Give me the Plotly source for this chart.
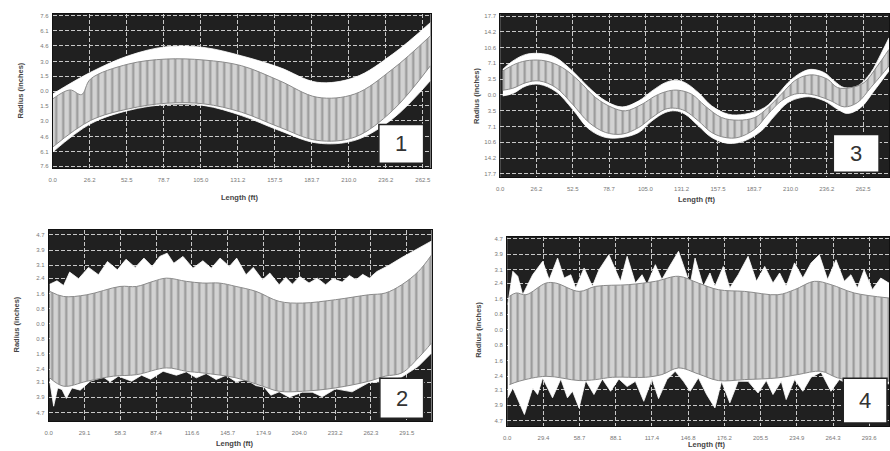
import plotly.graph_objects as go

W, H = 890, 451

# ---------------- Chart 1 ----------------
c1_U_x = [0, 26.8, 53.6, 80.4, 107.3, 133.8, 160.7, 187.5, 214.3, 241.1, 267.9]
c1_U_y = [-0.29, 1.90, 3.57, 4.48, 4.41, 3.57, 2.40, 0.89, 1.39, 3.74, 6.93]
c1_u_x = [0, 12.2, 20.5, 26.8, 53.6, 80.4, 107.3, 133.8, 160.7, 187.5, 214.3, 241.1, 267.9]
c1_u_y = [-0.79, 0.12, -0.35, 1.22, 2.73, 3.24, 3.14, 2.57, 1.06, -0.62, -0.29, 2.23, 5.59]
c1_l_x = [0, 26.8, 53.6, 80.4, 107.3, 133.8, 160.7, 187.5, 214.3, 241.1, 267.9]
c1_l_y = [-5.66, -2.97, -1.80, -1.23, -1.29, -2.13, -3.64, -4.98, -4.65, -1.96, 2.57]
c1_L_x = [0, 26.8, 53.6, 80.4, 107.3, 133.8, 160.7, 187.5, 214.3, 241.1, 267.9]
c1_L_y = [-6.16, -3.31, -1.96, -1.36, -1.46, -2.47, -3.98, -5.25, -4.98, -2.80, 1.06]
c1_xticks = [0.0, 26.2, 52.5, 78.7, 105.0, 131.2, 157.5, 183.7, 210.0, 236.2, 262.5]
c1_yticks = [7.6, 6.1, 4.6, 3.0, 1.5, 0.0, -1.5, -3.0, -4.6, -6.1, -7.6]

# ---------------- Chart 2 ----------------
c2_U_x = [0.8, 6.7, 12.1, 17.0, 24.3, 32.4, 40.5, 47.8, 55.9, 62.9, 70.4, 77.5, 84.2, 90.4,
          96.4, 101.8, 109.3, 117.4, 125.5, 132.3, 139.5, 147.1, 153.0, 160.6, 166.5, 174.1,
          180.0, 187.6, 193.0, 198.4, 204.3, 211.9, 218.6, 225.4, 231.3, 238.9, 244.8, 250.2,
          255.6, 261.0, 267.2, 276.7, 287.4, 300.9, 311.7]
c2_U_y = [2.09, 2.27, 2.02, 2.73, 2.38, 2.98, 2.59, 3.29, 2.85, 3.41, 2.98, 3.47, 3.03, 3.56,
          3.73, 3.20, 3.56, 2.94, 3.33, 2.94, 3.47, 3.03, 3.47, 2.59, 2.98, 2.32,
          2.68, 2.06, 2.45, 2.09, 2.50, 2.15, 2.41, 2.06, 2.38, 2.20, 2.55, 2.32,
          2.61, 2.41, 2.76, 3.08, 3.50, 3.99, 4.38]
c2_u_x = [0.8, 12.1, 31.0, 58.0, 71.5, 85.0, 95.8, 112.0, 125.5, 139.0, 152.5, 168.7, 187.6,
          206.5, 233.5, 260.5, 273.9, 287.4, 300.9, 311.7]
c2_u_y = [1.71, 1.44, 1.53, 1.97, 1.97, 2.24, 2.41, 2.24, 2.15, 2.15, 1.97, 1.71, 1.18,
          1.09, 1.27, 1.53, 1.62, 2.06, 2.76, 3.64]
c2_l_x = [0.8, 12.1, 31.0, 52.6, 71.5, 95.8, 112.0, 125.5, 152.5, 174.1, 187.6, 206.5, 233.5,
          260.5, 273.9, 287.4, 300.9, 311.7]
c2_l_y = [-2.87, -3.31, -3.05, -2.78, -2.70, -2.34, -2.52, -2.61, -2.87, -3.31, -3.58, -3.58,
          -3.40, -3.05, -2.78, -2.61, -1.81, -1.02]
c2_L_x = [0.8, 4.0, 7.3, 10.8, 14.3, 18.9, 25.6, 33.7, 44.5, 49.9, 56.7, 67.5, 75.6, 82.9,
          93.1, 103.9, 112.0, 120.1, 128.2, 136.3, 144.4, 152.5, 160.6, 168.7, 175.4, 180.8,
          187.6, 195.7, 206.5, 214.6, 222.7, 233.5, 247.0, 260.5, 273.9, 287.4, 300.9, 311.7]
c2_L_y = [-3.05, -4.37, -3.40, -3.49, -3.96, -3.40, -3.52, -3.05, -2.83, -3.08, -2.78, -3.05,
          -2.73, -2.94, -2.52, -2.73, -2.55, -2.87, -2.64, -2.96, -2.73, -3.08, -2.96, -3.28,
          -3.36, -3.79, -3.61, -3.89, -3.63, -3.63, -3.87, -3.45, -3.61, -3.12, -3.05, -2.83,
          -2.26, -1.55]
c2_xticks = [0.0, 29.1, 58.3, 87.4, 116.6, 145.7, 174.9, 204.0, 233.2, 262.3, 291.5]
c2_yticks = [4.7, 3.9, 3.1, 2.4, 1.6, 0.8, 0.0, -0.8, -1.6, -2.4, -3.1, -3.9, -4.7]

# ---------------- Chart 3 ----------------
c3_U_x = [1.9, 9.1, 18.7, 30.7, 40.3, 52.3, 64.2, 76.2, 88.2, 100.2, 109.8, 119.4, 126.6, 133.7,
          143.3, 152.9, 164.9, 176.9, 191.3, 200.9, 208.1, 217.6, 224.8, 234.4, 241.6, 248.8,
          258.4, 268.0, 275.2, 281.2]
c3_U_y = [5.75, 7.62, 9.11, 9.26, 8.36, 5.38, 1.64, -1.34, -2.69, -1.34, 0.90, 2.76, 3.29, 2.76,
          0.52, -2.46, -4.33, -4.33, -2.84, 0.15, 2.76, 5.00, 5.75, 5.00, 3.14, 1.64,
          2.02, 5.00, 9.11, 12.85]
c3_u_x = [1.9, 11.5, 21.1, 33.1, 45.1, 57.0, 69.0, 81.0, 90.6, 102.6, 112.2, 121.8, 129.0, 138.5,
          148.1, 160.1, 172.1, 184.1, 193.7, 203.3, 212.8, 220.0, 227.2, 236.8, 244.0, 253.6,
          263.2, 272.8, 281.2]
c3_u_y = [5.38, 7.02, 7.77, 7.62, 6.12, 3.14, -0.60, -2.84, -3.58, -2.09, -0.22, 0.90, 1.05, 0.15,
          -2.46, -5.08, -5.68, -5.08, -2.84, 0.15, 3.14, 4.26, 4.48, 3.51, 1.64, 1.64,
          2.76, 6.50, 10.23]
c3_l_x = [1.9, 9.1, 18.7, 28.3, 40.3, 52.3, 64.2, 76.2, 88.2, 100.2, 109.8, 119.4, 126.6, 133.7,
          143.3, 152.9, 162.5, 172.1, 184.1, 193.7, 203.3, 212.8, 220.0, 229.6, 239.2, 248.8,
          258.4, 268.0, 275.2, 281.2]
c3_l_y = [1.05, 1.49, 2.76, 3.14, 1.64, -2.09, -6.20, -8.44, -8.81, -7.32, -5.08, -3.21, -2.99, -3.58,
          -5.83, -8.44, -9.56, -9.56, -7.69, -4.33, -1.34, 0.15, 0.30, -0.22, -1.34, -2.69,
          -1.72, 1.64, 4.26, 6.50]
c3_L_x = [1.9, 9.1, 18.7, 28.3, 40.3, 52.3, 64.2, 76.2, 88.2, 100.2, 109.8, 119.4, 126.6, 133.7,
          143.3, 152.9, 164.9, 176.9, 188.9, 198.5, 208.1, 217.6, 224.8, 234.4, 244.0, 251.2,
          260.8, 270.4, 277.6, 281.2]
c3_L_y = [-0.22, 0.30, 2.02, 2.39, 0.75, -3.21, -7.69, -9.56, -9.56, -8.44, -5.83, -3.96, -3.58, -4.33,
          -6.95, -9.56, -10.90, -10.31, -8.07, -4.71, -1.72, -0.60, -0.45, -1.34, -3.21, -4.18,
          -2.84, 0.90, 3.88, 5.38]
c3_xticks = [0.0, 26.2, 52.5, 78.7, 105.0, 131.2, 157.5, 183.7, 210.0, 236.2, 262.5]
c3_yticks = [17.7, 14.2, 10.6, 7.1, 3.5, 0.0, -3.5, -7.1, -10.6, -14.2, -17.7]

# ---------------- Chart 4 ----------------
c4_U_x = [0.5, 4.6, 8.6, 12.6, 20.7, 28.8, 34.1, 40.9, 46.2, 51.6, 55.6, 62.4, 69.1, 74.5, 82.5,
          91.9, 97.3, 104.0, 109.4, 113.4, 120.2, 125.5, 130.9, 139.0, 148.4, 152.4, 159.1,
          164.5, 168.5, 175.3, 180.6, 187.4, 195.4, 202.2, 208.9, 215.6, 221.0, 226.3, 233.1,
          239.8, 246.5, 253.2, 259.9, 266.7, 273.4, 278.8, 284.1, 289.5, 296.2, 303.0, 309.7]
c4_U_y = [1.30, 3.02, 2.76, 1.81, 2.84, 3.53, 2.59, 3.70, 2.67, 2.84, 2.16, 3.19, 2.24, 3.10, 3.87,
          2.50, 3.79, 2.41, 2.84, 2.33, 3.36, 2.59, 3.19, 4.05, 2.33, 3.70, 2.24,
          2.93, 2.24, 3.27, 2.16, 2.84, 3.79, 2.50, 3.27, 2.41, 2.93, 2.24, 3.45,
          2.67, 3.45, 3.87, 2.59, 3.61, 2.50, 2.84, 2.16, 3.10, 2.07, 2.67, 2.41]
c4_u_x = [1.9, 7.3, 15.3, 31.5, 39.5, 58.3, 71.8, 98.7, 120.2, 139.0, 155.1, 171.2, 192.7, 219.6,
          233.1, 249.2, 262.6, 281.5, 309.7]
c4_u_y = [1.73, 1.90, 1.81, 2.41, 2.41, 1.98, 2.24, 2.33, 2.50, 2.76, 2.41, 2.07, 1.98, 1.81,
          2.07, 2.50, 2.33, 1.90, 1.64]
c4_l_x = [1.9, 9.9, 31.5, 58.3, 71.8, 85.2, 112.1, 125.5, 139.0, 155.1, 171.2, 192.7, 219.6,
          235.8, 254.6, 268.0, 286.8, 309.7]
c4_l_y = [-2.83, -2.65, -2.40, -2.62, -2.57, -2.45, -2.45, -2.31, -1.97, -2.28, -2.62, -2.57,
          -2.48, -2.31, -2.14, -2.48, -2.65, -2.65]
c4_L_x = [0.5, 4.6, 14.0, 20.7, 24.7, 28.8, 36.8, 43.5, 48.9, 53.0, 58.3, 63.7, 70.4, 77.2, 83.9,
          90.6, 97.3, 104.0, 110.8, 117.5, 122.8, 129.6, 136.3, 143.0, 148.4, 155.1, 161.8,
          168.5, 173.9, 180.6, 187.4, 195.4, 203.5, 210.2, 215.6, 222.3, 226.3, 233.1, 239.8,
          246.5, 254.6, 262.6, 269.4, 277.4, 286.8, 309.7]
c4_L_y = [-3.51, -3.00, -4.37, -3.00, -3.34, -2.49, -3.51, -2.54, -3.51, -3.17, -4.03, -2.62,
          -3.34, -2.54, -3.17, -2.54, -2.93, -2.66, -3.69, -2.54, -3.55, -2.57, -2.14, -2.66,
          -3.17, -2.48, -3.34, -4.03, -2.66, -3.77, -2.66, -2.66, -3.26, -2.62, -3.34, -2.66,
          -3.60, -2.57, -3.17, -2.45, -2.19, -3.17, -2.57, -2.83, -2.74, -2.79]
c4_xticks = [0.0, 29.4, 58.7, 88.1, 117.4, 146.8, 176.2, 205.5, 234.9, 264.3, 293.6]
c4_yticks = [4.7, 3.9, 3.1, 2.4, 1.6, 0.8, 0.0, -0.8, -1.6, -2.4, -3.1, -3.9, -4.7]

charts = [
    dict(ax="", U=(c1_U_x, c1_U_y), u=(c1_u_x, c1_u_y), l=(c1_l_x, c1_l_y), L=(c1_L_x, c1_L_y),
         xt=c1_xticks, yt=c1_yticks, xr=[0, 268], yr=[-7.8, 7.8], box=(49, 13, 429, 168),
         oshape="spline", label="1", lbox=(377, 124, 422, 163),
         ytitle=(17, 90), xtitle=(237, 197)),
    dict(ax="2", U=(c3_U_x, c3_U_y), u=(c3_u_x, c3_u_y), l=(c3_l_x, c3_l_y), L=(c3_L_x, c3_L_y),
         xt=c3_xticks, yt=c3_yticks, xr=[0, 281.2], yr=[-18.5, 18.2], box=(499, 13, 890, 177),
         oshape="spline", label="3", lbox=(834, 134, 880, 172),
         ytitle=(475, 95), xtitle=(697, 199)),
    dict(ax="3", U=(c2_U_x, c2_U_y), u=(c2_u_x, c2_u_y), l=(c2_l_x, c2_l_y), L=(c2_L_x, c2_L_y),
         xt=c2_xticks, yt=c2_yticks, xr=[0, 311.7], yr=[-5.16, 4.96], box=(45, 230, 430, 422),
         oshape="linear", label="2", lbox=(378, 379, 422, 419),
         ytitle=(13, 325), xtitle=(232, 444)),
    dict(ax="4", U=(c4_U_x, c4_U_y), u=(c4_u_x, c4_u_y), l=(c4_l_x, c4_l_y), L=(c4_L_x, c4_L_y),
         xt=c4_xticks, yt=c4_yticks, xr=[0, 309.7], yr=[-4.97, 4.79], box=(506, 237, 890, 427),
         oshape="linear", label="4", lbox=(844, 379, 888, 424),
         ytitle=(477, 330), xtitle=(707, 445)),
]

def px(x):
    return x / W

def py(y):
    return 1 - y / H

fig = go.Figure()
layout = dict(width=W, height=H, margin=dict(l=0, r=0, t=0, b=0), showlegend=False,
              paper_bgcolor="white", plot_bgcolor="#202020",
              font=dict(family="Liberation Sans", size=6, color="#777"))
shapes, annotations = [], []

for c in charts:
    xa = "x" + c["ax"]
    ya = "y" + c["ax"]
    common = dict(xaxis=xa, yaxis=ya, mode="lines", hoverinfo="skip")
    fig.add_trace(go.Scatter(x=c["U"][0], y=c["U"][1], line=dict(color="white", width=0.8,
                                                                  shape=c["oshape"]), **common))
    fig.add_trace(go.Scatter(x=c["L"][0], y=c["L"][1], fill="tonexty", fillcolor="white",
                             line=dict(color="white", width=0.8, shape=c["oshape"]), **common))
    fig.add_trace(go.Scatter(x=c["u"][0], y=c["u"][1], line=dict(color="#8a8a8a", width=1,
                                                                  shape="spline"), **common))
    fig.add_trace(go.Scatter(x=c["l"][0], y=c["l"][1], fill="tonexty", fillcolor="#cfcfcf",
                             fillpattern=dict(shape="|", size=7, solidity=0.3,
                                              fgcolor="#5c5c5c", bgcolor="#d2d2d2"),
                             line=dict(color="#8a8a8a", width=1, shape="spline"), **common))
    l, t, r, b = c["box"]
    grid = dict(showgrid=True, gridcolor="#c8c8c8", gridwidth=1, griddash="4px,2px",
                zeroline=False, showline=True, linecolor="#111", linewidth=1, mirror=True,
                ticks="outside", tickcolor="rgba(0,0,0,0)",
                tickfont=dict(size=6, color="#777"))
    layout["xaxis" + c["ax"]] = dict(domain=[px(l), px(r)], anchor=ya, range=c["xr"],
                                    tickmode="array", tickvals=c["xt"],
                                    ticktext=[f"{v:.1f}" for v in c["xt"]],
                                    ticklen=6, **grid)
    layout["yaxis" + c["ax"]] = dict(domain=[py(b), py(t)], anchor=xa, range=c["yr"],
                                    tickmode="array", tickvals=c["yt"],
                                    ticktext=[f"{abs(v):.1f}" for v in c["yt"]],
                                    ticklen=2, **grid)
    bl, bt, br, bb = c["lbox"]
    shapes.append(dict(type="rect", xref="paper", yref="paper", x0=px(bl), x1=px(br),
                       y0=py(bb), y1=py(bt), fillcolor="white",
                       line=dict(color="#222", width=1.5), layer="above"))
    annotations.append(dict(xref="paper", yref="paper", x=px((bl + br) / 2), y=py((bt + bb) / 2),
                            xanchor="center", yanchor="middle",
                            text=c["label"], showarrow=False,
                            font=dict(family="Liberation Sans", size=22, color="#333")))
    annotations.append(dict(xref="paper", yref="paper", x=px(c["xtitle"][0]), y=py(c["xtitle"][1]),
                            xanchor="center", yanchor="middle",
                            text="<b>Length (ft)</b>", showarrow=False,
                            font=dict(size=7.5, color="#444")))
    annotations.append(dict(xref="paper", yref="paper", x=px(c["ytitle"][0]), y=py(c["ytitle"][1]),
                            xanchor="center", yanchor="middle",
                            text="<b>Radius (inches)</b>", showarrow=False, textangle=-90,
                            font=dict(size=7.5, color="#444")))

layout["shapes"] = shapes
layout["annotations"] = annotations
fig.update_layout(**layout)
fig.write_html("out.html", config={"displayModeBar": False},
               post_script="document.body.style.margin='0px';")
